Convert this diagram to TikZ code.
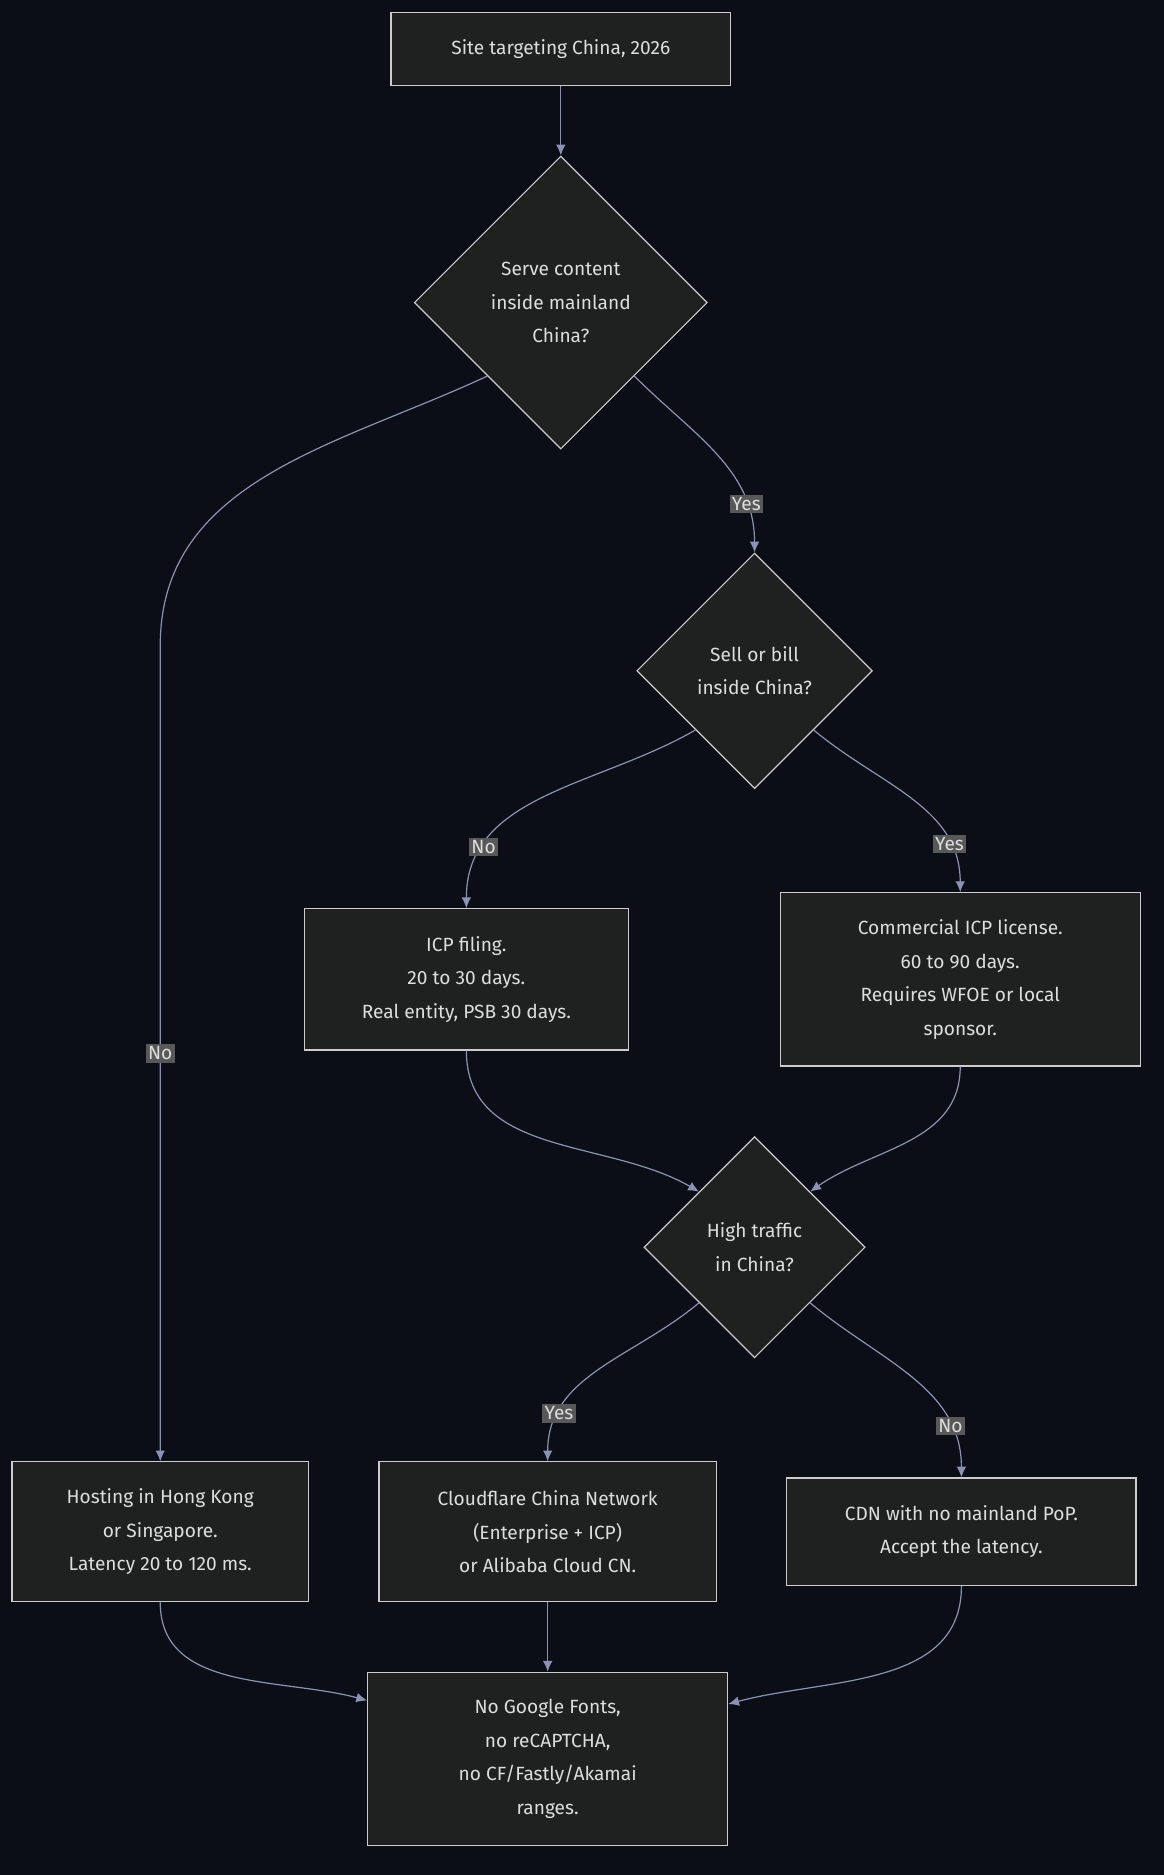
\documentclass[tikz,border=0pt]{standalone}
\usepackage{fontspec}
\setmainfont{Fira Sans}
\usetikzlibrary{shapes.geometric,arrows.meta}
\definecolor{bgc}{HTML}{0B0E17}
\definecolor{boxc}{HTML}{1F2020}
\definecolor{edgec}{HTML}{CCCCCC}
\definecolor{arrc}{HTML}{8A93B4}
\definecolor{lblc}{HTML}{585858}
\definecolor{txtc}{HTML}{DDDDDD}
\begin{document}
\begin{tikzpicture}[x=1pt,y=-1pt,
  font=\fontsize{16}{28}\selectfont,
  box/.style={rectangle,draw=edgec,fill=boxc,text=txtc,align=center,line width=1pt},
  dec/.style={diamond,draw=edgec,fill=boxc,text=txtc,align=center,inner sep=0pt,aspect=1,line width=1pt},
  arr/.style={draw=arrc,line width=1pt,-{Latex[length=9pt,width=8pt]}},
  lbl/.style={fill=lblc,text=txtc,inner sep=2pt}]
\fill[bgc] (0,0) rectangle (973,1568);
\useasboundingbox (0,0) rectangle (973,1568);
% nodes
\node[box,minimum width=284pt,minimum height=61pt] (start) at (469,41) {Site targeting China, 2026};
\node[dec,minimum size=245pt] (serve) at (469,253) {Serve content\\inside mainland\\China?};
\node[dec,minimum size=197pt] (sell) at (631,561) {Sell or bill\\inside China?};
\node[box,minimum width=271pt,minimum height=118pt] (filing) at (390,819) {ICP filing.\\20 to 30 days.\\Real entity, PSB 30 days.};
\node[box,minimum width=301pt,minimum height=145pt] (license) at (803,819) {Commercial ICP license.\\60 to 90 days.\\Requires WFOE or local\\sponsor.};
\node[dec,minimum size=185pt] (traffic) at (631,1043) {High traffic\\in China?};
\node[box,minimum width=248pt,minimum height=117pt] (hk) at (134,1281) {Hosting in Hong Kong\\or Singapore.\\Latency 20 to 120 ms.};
\node[box,minimum width=282pt,minimum height=117pt] (cf) at (458,1281) {Cloudflare China Network\\(Enterprise + ICP)\\or Alibaba Cloud CN.};
\node[box,minimum width=292pt,minimum height=90pt] (cdn) at (804,1281) {CDN with no mainland PoP.\\Accept the latency.};
\node[box,minimum width=301pt,minimum height=145pt] (fonts) at (458,1471) {No Google Fonts,\\no reCAPTCHA,\\no CF/Fastly/Akamai\\ranges.};
\coordinate (bend) at (134,540);
% edges
\draw[arr] (start) -- (serve);
\draw[arr] (serve.south west) to[out=205,in=90] (bend) -- node[lbl]{No} (hk.north);
\draw[arr] (serve.south east) to[out=-45,in=90] node[lbl,pos=0.78]{Yes} (sell.north);
\draw[arr] (sell.south west) to[out=210,in=90] node[lbl,pos=0.78]{No} (filing.north);
\draw[arr] (sell.south east) to[out=-40,in=90] node[lbl,pos=0.78]{Yes} (license.north);
\draw[arr] (filing.south) to[out=-90,in=150] (traffic.north west);
\draw[arr] (license.south) to[out=-90,in=35] (traffic.north east);
\draw[arr] (traffic.south west) to[out=220,in=90] node[lbl,pos=0.78]{Yes} (cf.north);
\draw[arr] (traffic.south east) to[out=-40,in=90] node[lbl,pos=0.78]{No} (cdn.north);
\draw[arr] (hk.south) to[out=-90,in=165] ([yshift=-24pt]fonts.north west);
\draw[arr] (cf) -- (fonts);
\draw[arr] (cdn.south) to[out=-90,in=15] ([yshift=-27pt]fonts.north east);
\end{tikzpicture}
\end{document}
